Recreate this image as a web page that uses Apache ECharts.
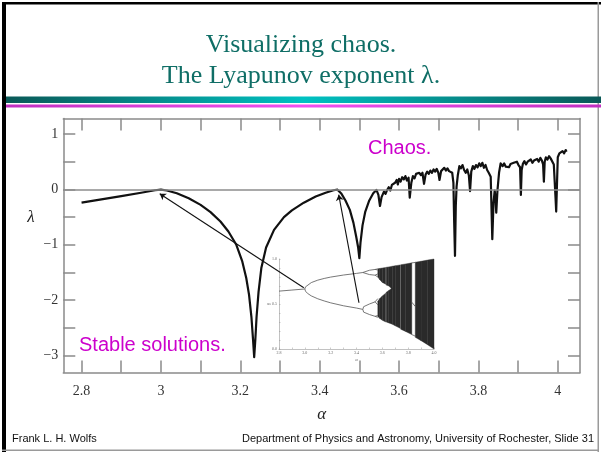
<!DOCTYPE html>
<html><head><meta charset="utf-8">
<script src="https://cdn.jsdelivr.net/npm/echarts@6/dist/echarts.min.js"></script>
<style>html,body{margin:0;padding:0;background:#fff}#c{width:601px;height:452px}</style>
</head><body><div id="c"></div>
<script>
// ---------- main chart data ----------
const lyapunov = [
 [2.800,-0.24],[2.850,-0.18],[2.900,-0.12],[2.950,-0.06],[2.985,-0.015],[3.000,-0.005],[3.015,-0.02],
 [3.040,-0.07],[3.070,-0.16],[3.100,-0.28],[3.125,-0.41],[3.150,-0.58],[3.170,-0.76],[3.190,-1.0],
 [3.205,-1.3],[3.215,-1.6],[3.222,-1.9],[3.228,-2.3],[3.232,-2.7],[3.235,-3.03],[3.238,-2.7],
 [3.241,-2.3],[3.246,-1.85],[3.253,-1.42],[3.265,-1.05],[3.285,-0.73],[3.310,-0.5],[3.330,-0.38],
 [3.360,-0.24],[3.390,-0.13],[3.415,-0.06],[3.435,-0.015],[3.445,-0.005],[3.455,-0.08],[3.465,-0.2],
 [3.476,-0.37],[3.485,-0.6],[3.492,-0.85],[3.497,-1.05],[3.500,-1.24],[3.503,-0.95],[3.508,-0.65],
 [3.515,-0.4],[3.525,-0.2],[3.535,-0.07],[3.543,-0.01],[3.548,-0.1],[3.552,-0.3],[3.556,-0.14],
 [3.562,-0.04],[3.566,-0.08],[3.570,-0.01],
 [3.574,0.04],[3.578,-0.02],[3.582,0.08],[3.586,0.05],[3.590,0.12],[3.594,0.17],[3.597,0.09],
 [3.600,0.19],[3.604,0.14],[3.608,0.22],[3.612,0.18],[3.616,0.24],[3.620,0.16],[3.624,0.21],
 [3.627,-0.15],[3.631,0.12],[3.635,0.24],[3.639,0.2],[3.643,0.28],[3.647,0.25],[3.651,0.3],
 [3.655,0.26],[3.659,0.3],[3.663,0.1],[3.667,0.27],[3.671,0.32],[3.675,0.28],[3.679,0.34],
 [3.683,0.3],[3.687,0.36],[3.691,0.32],[3.695,0.37],[3.699,0.3],[3.702,0.17],[3.706,0.33],
 [3.710,0.36],[3.714,0.39],[3.718,0.34],[3.722,0.38],[3.726,0.33],[3.730,0.36],[3.734,0.3],
 [3.737,0.12],[3.739,-0.6],[3.741,-1.2],[3.743,-0.3],[3.745,0.05],[3.748,0.25],[3.752,0.42],
 [3.756,0.38],[3.760,0.44],[3.764,0.35],[3.768,0.3],[3.772,0.36],[3.776,0.25],[3.779,-0.03],
 [3.782,0.32],[3.786,0.42],[3.790,0.37],[3.794,0.44],[3.798,0.4],[3.802,0.47],[3.806,0.42],
 [3.810,0.48],[3.814,0.39],[3.818,0.44],[3.822,0.35],[3.826,0.3],[3.831,0.23],[3.835,-0.9],
 [3.838,-0.25],[3.841,-0.02],[3.843,-0.15],[3.845,-0.42],[3.848,-0.02],[3.852,0.3],[3.856,0.47],
 [3.861,0.42],[3.865,0.47],[3.869,0.41],[3.873,0.44],[3.877,0.4],[3.881,0.46],[3.885,0.43],
 [3.889,0.48],[3.893,0.45],[3.897,0.5],[3.901,0.44],[3.905,0.4],[3.907,-0.1],[3.909,0.35],
 [3.912,0.46],[3.916,0.51],[3.920,0.45],[3.924,0.5],[3.928,0.47],[3.932,0.54],[3.936,0.48],
 [3.940,0.52],[3.944,0.49],[3.948,0.55],[3.952,0.5],[3.956,0.57],[3.960,0.52],[3.963,0.45],
 [3.965,0.14],[3.967,0.5],[3.970,0.58],[3.974,0.54],[3.978,0.6],[3.982,0.56],[3.986,0.53],
 [3.990,0.45],[3.994,-0.1],[3.996,-0.4],[3.998,0.1],[4.000,0.58],[4.004,0.65],[4.008,0.62],
 [4.012,0.69],[4.016,0.65],[4.020,0.71],[4.022,0.68]
];
const xTicks = [2.8,2.9,3.0,3.1,3.2,3.3,3.4,3.5,3.6,3.7,3.8,3.9,4.0];
const xLabels = [2.8,3.0,3.2,3.4,3.6,3.8,4.0];
const yTicks = [-3,-2.5,-2,-1.5,-1,-0.5,0,0.5,1];
const yLabels = [-3,-2,-1,0,1];
// arrows: [tail, head] in main-chart data units
const arrows = [
 [[3.360,-1.777],[2.997,-0.078]],
 [[3.499,-2.047],[3.448,-0.095]]
];
const titleLines = ['Visualizing chaos.','The Lyapunov exponent λ.'];
const chaosNote = 'Chaos.';
const stableNote = 'Stable solutions.';
const footerLeft = 'Frank L. H. Wolfs';
const footerRight = 'Department of Physics and Astronomy, University of Rochester, Slide 31';

// ---------- inset (bifurcation diagram) data ----------
const insetXLabels = [2.8,3.0,3.2,3.4,3.6,3.8,4.0];
const insetXTicks = [2.8,2.9,3.0,3.1,3.2,3.3,3.4,3.5,3.6,3.7,3.8,3.9,4.0];
const insetYLabels = [0,0.5,1];
const insetYTicks = [0,0.1,0.2,0.3,0.4,0.5,0.6,0.7,0.8,0.9,1];
const branches = [
 [[2.8,0.643],[2.9,0.655],[3.0,0.667]],
 [[3.0,0.667],[3.005,0.69],[3.02,0.712],[3.05,0.738],[3.1,0.765],[3.15,0.784],[3.2,0.799],[3.3,0.822],[3.4,0.84],[3.449,0.85]],
 [[3.0,0.667],[3.005,0.643],[3.02,0.619],[3.05,0.59],[3.1,0.558],[3.15,0.534],[3.2,0.513],[3.3,0.48],[3.4,0.455],[3.449,0.44]],
 [[3.449,0.85],[3.46,0.862],[3.5,0.875],[3.544,0.884]],
 [[3.449,0.85],[3.46,0.838],[3.5,0.827],[3.544,0.82]],
 [[3.449,0.44],[3.455,0.47],[3.47,0.49],[3.5,0.50],[3.544,0.524]],
 [[3.449,0.44],[3.455,0.41],[3.47,0.395],[3.5,0.383],[3.544,0.363]],
 [[3.544,0.884],[3.565,0.89]],[[3.544,0.884],[3.565,0.878]],
 [[3.544,0.82],[3.565,0.835]],[[3.544,0.82],[3.565,0.80]],
 [[3.544,0.524],[3.565,0.56]],[[3.544,0.524],[3.565,0.49]],
 [[3.544,0.363],[3.565,0.372]],[[3.544,0.363],[3.565,0.352]],
 [[3.828,0.16],[3.845,0.15],[3.857,0.14]],
 [[3.828,0.52],[3.845,0.49],[3.857,0.47]],
 [[3.828,0.957],[3.845,0.96],[3.857,0.963]]
];
// chaotic bands: [alpha, lower edge, upper edge]
const chaosBands = [
 [[3.565,0.80,0.892],[3.58,0.77,0.895],[3.60,0.74,0.90],[3.626,0.72,0.906]],
 [[3.630,0.71,0.908],[3.65,0.70,0.912],[3.678,0.66,0.92]],
 [[3.565,0.36,0.53],[3.58,0.34,0.56],[3.60,0.32,0.59],[3.626,0.30,0.62]],
 [[3.630,0.30,0.63],[3.65,0.29,0.65],[3.678,0.275,0.68]],
 [[3.678,0.275,0.92],[3.70,0.257,0.925],[3.738,0.23,0.934]],
 [[3.742,0.22,0.936],[3.78,0.195,0.945],[3.828,0.16,0.957]],
 [[3.855,0.13,0.964],[3.9,0.093,0.975],[3.95,0.048,0.988],[4.0,0.0,1.0]]
];

// ---------- build chart ----------
const serif = '"Liberation Serif","DejaVu Serif",serif';
const sans = '"Liberation Sans",Arial,sans-serif';
const axisGray = '#8a8a8a';
const fmt1 = v => { const s = String(+(+v).toFixed(1)); return v < 0 ? '\u2212' + s.slice(1) : s; };

function mainX(pos, show) {
  return {
    type:'value', gridIndex:0, position:pos, min:2.754, max:4.056,
    axisLine:{show:true, onZero:false, lineStyle:{color:axisGray, width:1.5}},
    axisTick:{show:true, inside:true, length:12, customValues:xTicks, lineStyle:{color:axisGray, width:1.5}},
    axisLabel: show ? {show:true, customValues:xLabels, formatter:fmt1, margin:12, fontFamily:serif, fontSize:14, color:'#333'} : {show:false},
    splitLine:{show:false},
    name: show ? 'α' : '', nameLocation:'middle', nameGap:34,
    nameTextStyle:{fontFamily:serif, fontStyle:'italic', fontSize:17, color:'#222'}
  };
}
function mainY(pos, show) {
  return {
    type:'value', gridIndex:0, position:pos, min:-3.306, max:1.28,
    axisLine:{show:true, onZero:false, lineStyle:{color:axisGray, width:1.5}},
    axisTick:{show:true, inside:true, length:12, customValues:yTicks, lineStyle:{color:axisGray, width:1.5}},
    axisLabel: show ? {show:true, customValues:yLabels, formatter:fmt1, margin:5, fontFamily:serif, fontSize:14, color:'#333'} : {show:false},
    splitLine:{show:false}
  };
}

function bandSeries(band) {
  return {
    type:'custom', xAxisIndex:2, yAxisIndex:2, silent:true, z:4,
    encode:{x:0, y:[1,2]},
    data: band,
    renderItem(params, api) {
      const i = params.dataIndex;
      if (i >= band.length - 1) return {type:'group', children:[]};
      const a = band[i], b = band[i+1];
      return {
        type:'polygon',
        shape:{points:[api.coord([a[0],a[1]]), api.coord([b[0],b[1]]), api.coord([b[0],b[2]]), api.coord([a[0],a[2]])]},
        style:{fill:'#2a2a2a', stroke:'#2a2a2a', lineWidth:0.4}
      };
    }
  };
}

const series = [
  { type:'line', xAxisIndex:0, yAxisIndex:0, data:[], z:1, silent:true,
    markLine:{silent:true, symbol:['none','none'], label:{show:false},
      lineStyle:{color:'#8c8c8c', width:1.5, type:'solid'}, data:[{yAxis:0}]} },
  { type:'line', xAxisIndex:0, yAxisIndex:0, data:lyapunov, symbol:'none', z:3,
    lineStyle:{color:'#111', width:2.2, join:'round'} },
  ...branches.map(b => ({ type:'line', xAxisIndex:2, yAxisIndex:2, data:b, symbol:'none', z:4,
    lineStyle:{color:'#555', width:0.8} })),
  ...chaosBands.map(bandSeries),
  { type:'lines', coordinateSystem:'cartesian2d', xAxisIndex:0, yAxisIndex:0, z:6, silent:true,
    symbol:['none','arrow'], symbolSize:[1,6],
    lineStyle:{color:'#111', width:1.1, opacity:1},
    data: arrows.map(a => ({coords:a})) }
];

const chart = echarts.init(document.getElementById('c'), null, {renderer:'canvas'});
chart.setOption({
  animation:false,
  backgroundColor:'#fff',
  grid:[
    {left:63.3, top:118.5, width:516.7, height:254},
    {left:279, top:259, width:155, height:90}
  ],
  xAxis:[
    mainX('bottom', true), mainX('top', false),
    { type:'value', gridIndex:1, min:2.8, max:4.0, position:'bottom',
      axisLine:{onZero:false, lineStyle:{color:'#999', width:0.6}},
      axisTick:{inside:true, length:1.5, customValues:insetXTicks, lineStyle:{color:'#999', width:0.5}},
      axisLabel:{customValues:insetXLabels, formatter:v=>(+v).toFixed(1), margin:2, fontSize:4, fontFamily:serif, color:'#666'},
      splitLine:{show:false},
      name:'α', nameLocation:'middle', nameGap:8, nameTextStyle:{fontSize:5, fontStyle:'italic', fontFamily:serif, color:'#666'} }
  ],
  yAxis:[
    mainY('left', true), mainY('right', false),
    { type:'value', gridIndex:1, min:0, max:1, position:'left',
      axisLine:{onZero:false, lineStyle:{color:'#999', width:0.6}},
      axisTick:{inside:true, length:1.5, customValues:insetYTicks, lineStyle:{color:'#999', width:0.5}},
      axisLabel:{customValues:insetYLabels, formatter:v=>(+v).toFixed(1), margin:2, fontSize:4, fontFamily:serif, color:'#666'},
      splitLine:{show:false} }
  ],
  series,
  graphic:[
    // slide frame
    {type:'rect', shape:{x:2, y:2, width:4, height:452}, style:{fill:'#000'}, z:10},
    {type:'rect', shape:{x:2, y:2, width:599, height:2.5}, style:{fill:'#000'}, z:10},
    {type:'rect', shape:{x:597.5, y:2, width:1.5, height:450}, style:{fill:'#9a9a9a'}, z:10},
    {type:'rect', shape:{x:2, y:449.5, width:597, height:1.5}, style:{fill:'#9a9a9a'}, z:10},
    // header bars
    {type:'rect', shape:{x:6, y:96.5, width:595, height:6.5}, z:10,
      style:{fill:new echarts.graphic.LinearGradient(0,0,1,0,[
        {offset:0,color:'#0a5957'},{offset:0.5,color:'#00c2c2'},{offset:1,color:'#0a5957'}])}},
    {type:'rect', shape:{x:6, y:104.5, width:595, height:3}, z:10,
      style:{fill:new echarts.graphic.LinearGradient(0,0,1,0,[
        {offset:0,color:'#c030c0'},{offset:0.5,color:'#f050f0'},{offset:1,color:'#c030c0'}])}},
    // title
    {type:'text', x:301, y:45, z:10, style:{text:titleLines[0], fontFamily:serif, fontSize:26, fill:'#0f6e66', align:'center', verticalAlign:'middle'}},
    {type:'text', x:301, y:76, z:10, style:{text:titleLines[1], fontFamily:serif, fontSize:26, fill:'#0f6e66', align:'center', verticalAlign:'middle'}},
    // axis symbol
    {type:'text', x:31, y:218, z:10, style:{text:'λ', fontFamily:serif, fontStyle:'italic', fontSize:17, fill:'#222', align:'center', verticalAlign:'middle'}},
    // inset y symbol
    {type:'text', x:269, y:304, z:10, style:{text:'xₙ', fontFamily:serif, fontStyle:'italic', fontSize:5, fill:'#666', align:'center', verticalAlign:'middle'}},
    // annotations
    {type:'text', x:368, y:148, z:10, style:{text:chaosNote, fontFamily:sans, fontSize:20, fill:'#cc00cc', align:'left', verticalAlign:'middle'}},
    {type:'text', x:79, y:345, z:10, style:{text:stableNote, fontFamily:sans, fontSize:20, fill:'#cc00cc', align:'left', verticalAlign:'middle'}},
    // footer
    {type:'text', x:12, y:439, z:10, style:{text:footerLeft, fontFamily:sans, fontSize:11, fill:'#111', align:'left', verticalAlign:'middle'}},
    {type:'text', x:594, y:439, z:10, style:{text:footerRight, fontFamily:sans, fontSize:11, fill:'#111', align:'right', verticalAlign:'middle'}}
  ]
});
</script>
</body></html>
